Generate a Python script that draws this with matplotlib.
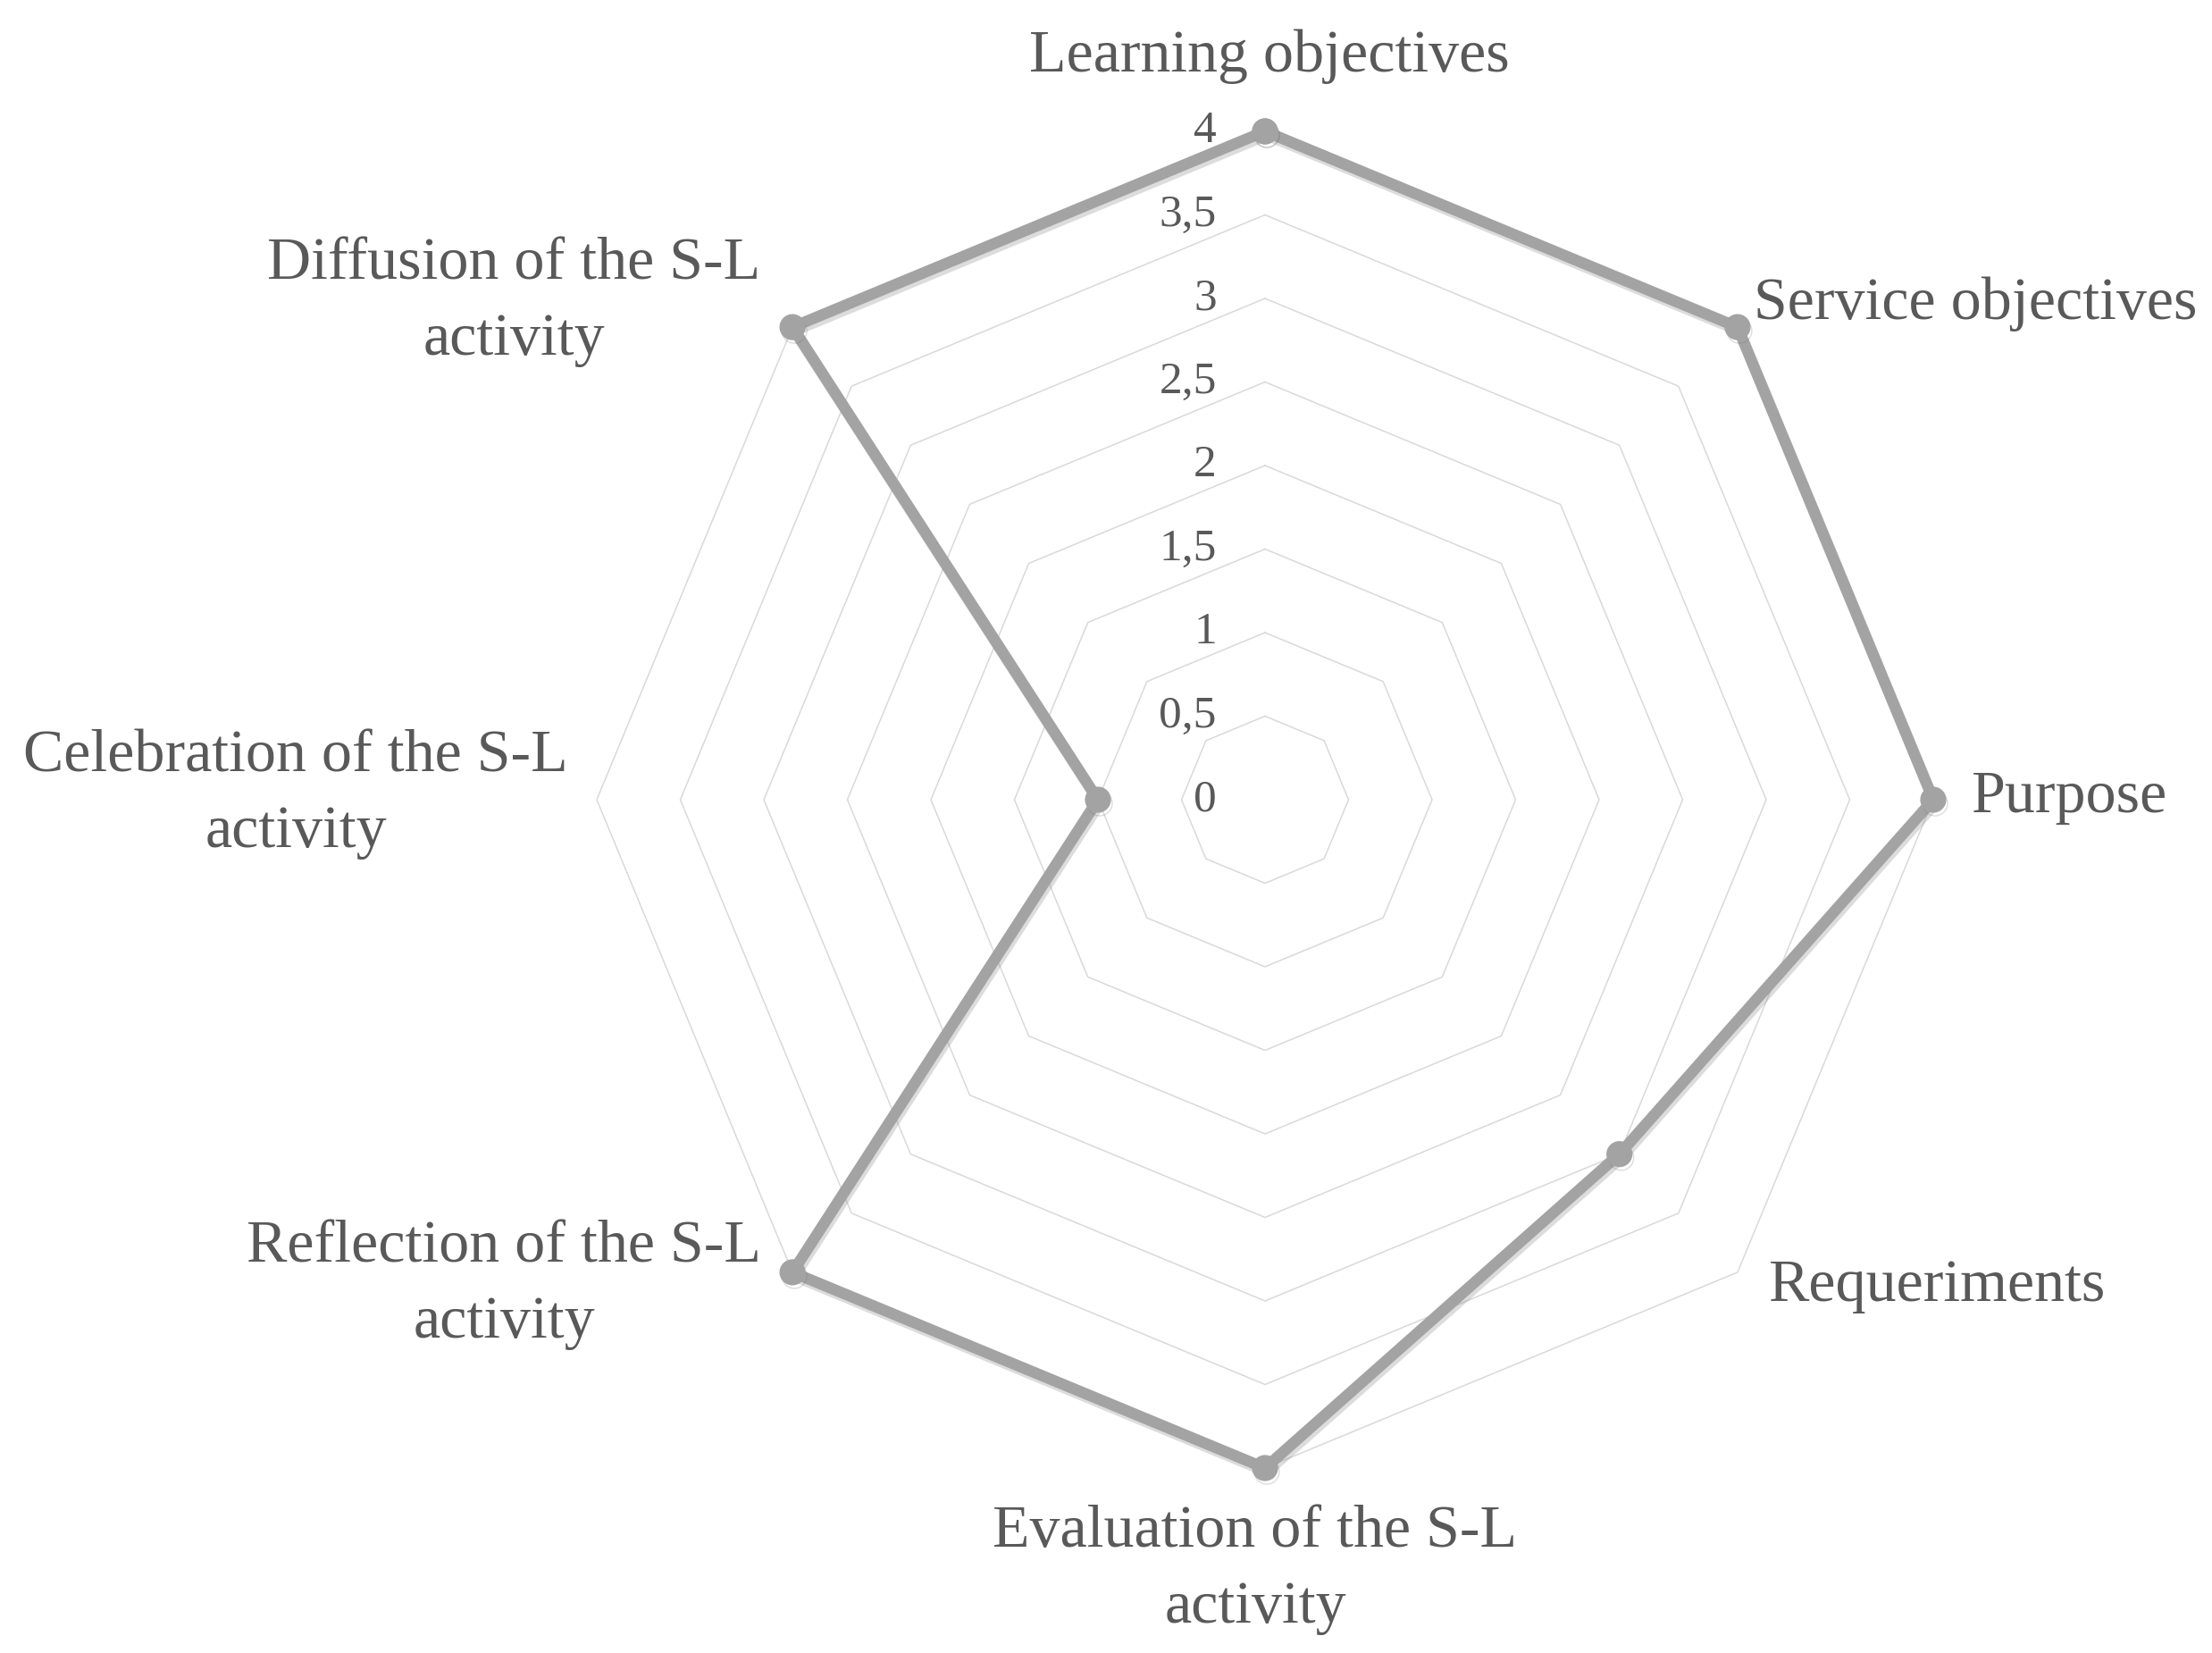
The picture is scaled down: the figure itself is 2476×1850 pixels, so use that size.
import numpy as np
import matplotlib
matplotlib.use("Agg")
import matplotlib.pyplot as plt
import matplotlib.patheffects as pe

categories = ["Learning objectives", "Service objectives", "Purpose", "Requeriments",
              "Evaluation of the S-L\nactivity", "Reflection of the S-L\nactivity",
              "Celebration of the S-L\nactivity", "Diffusion of the S-L\nactivity"]
values = [4, 4, 4, 3, 4, 4, 1, 4]
ring_levels = [0, 0.5, 1, 1.5, 2, 2.5, 3, 3.5, 4]
ring_labels = ["0", "0,5", "1", "1,5", "2", "2,5", "3", "3,5", "4"]

FONT = "Liberation Serif"
TXT = "#595959"
W, H = 2476, 1850
CX, CY = 1416, 895          # centre of the radar, pixels
PX = 187.0                  # pixels per unit

fig = plt.figure(figsize=(W / 100, H / 100), dpi=100)
ax = fig.add_axes([0, 0, 1, 1])
ax.set_xlim(-CX / PX, (W - CX) / PX)
ax.set_ylim(-(H - CY) / PX, CY / PX)
ax.axis("off")

n = len(categories)
theta = np.arange(n) * 2 * np.pi / n
sx, cy = np.sin(theta), np.cos(theta)

# polygonal grid rings
for r in ring_levels[1:]:
    ax.plot(np.append(r * sx, r * sx[0]), np.append(r * cy, r * cy[0]),
            color="#d9d9d9", lw=1.1, zorder=1)

# ring value labels, right-aligned left of the vertical axis
for r, lab in zip(ring_levels, ring_labels):
    ax.text(-0.29, r, lab, ha="right", va="center", fontsize=37,
            family=FONT, color=TXT, zorder=2)

# data series
v = np.array(values, dtype=float)
xs, ys = np.append(v * sx, v[0] * sx[0]), np.append(v * cy, v[0] * cy[0])
ax.plot(xs, ys, color="#a3a3a3", lw=9, marker="o", ms=20, solid_joinstyle="miter",
        zorder=3, path_effects=[pe.SimpleLineShadow(offset=(1.5, -3), shadow_color="#777777", alpha=0.25),
                                pe.Normal()])

# category labels
lab_pos = [(1421, 63, "center"), (1963, 340, "left"), (2206, 892, "left"),
           (1979, 1439, "left"), (1405, 1757, "center"), (564, 1438, "center"),
           (331, 889, "center"), (575, 338, "center")]
for lab, (px, py, ha) in zip(categories, lab_pos):
    ax.text((px - CX) / PX, (CY - py) / PX, lab, ha=ha, va="center", fontsize=49,
            family=FONT, color=TXT, linespacing=1.5, multialignment="center")

fig.savefig("out.png", dpi=100, facecolor="white")
